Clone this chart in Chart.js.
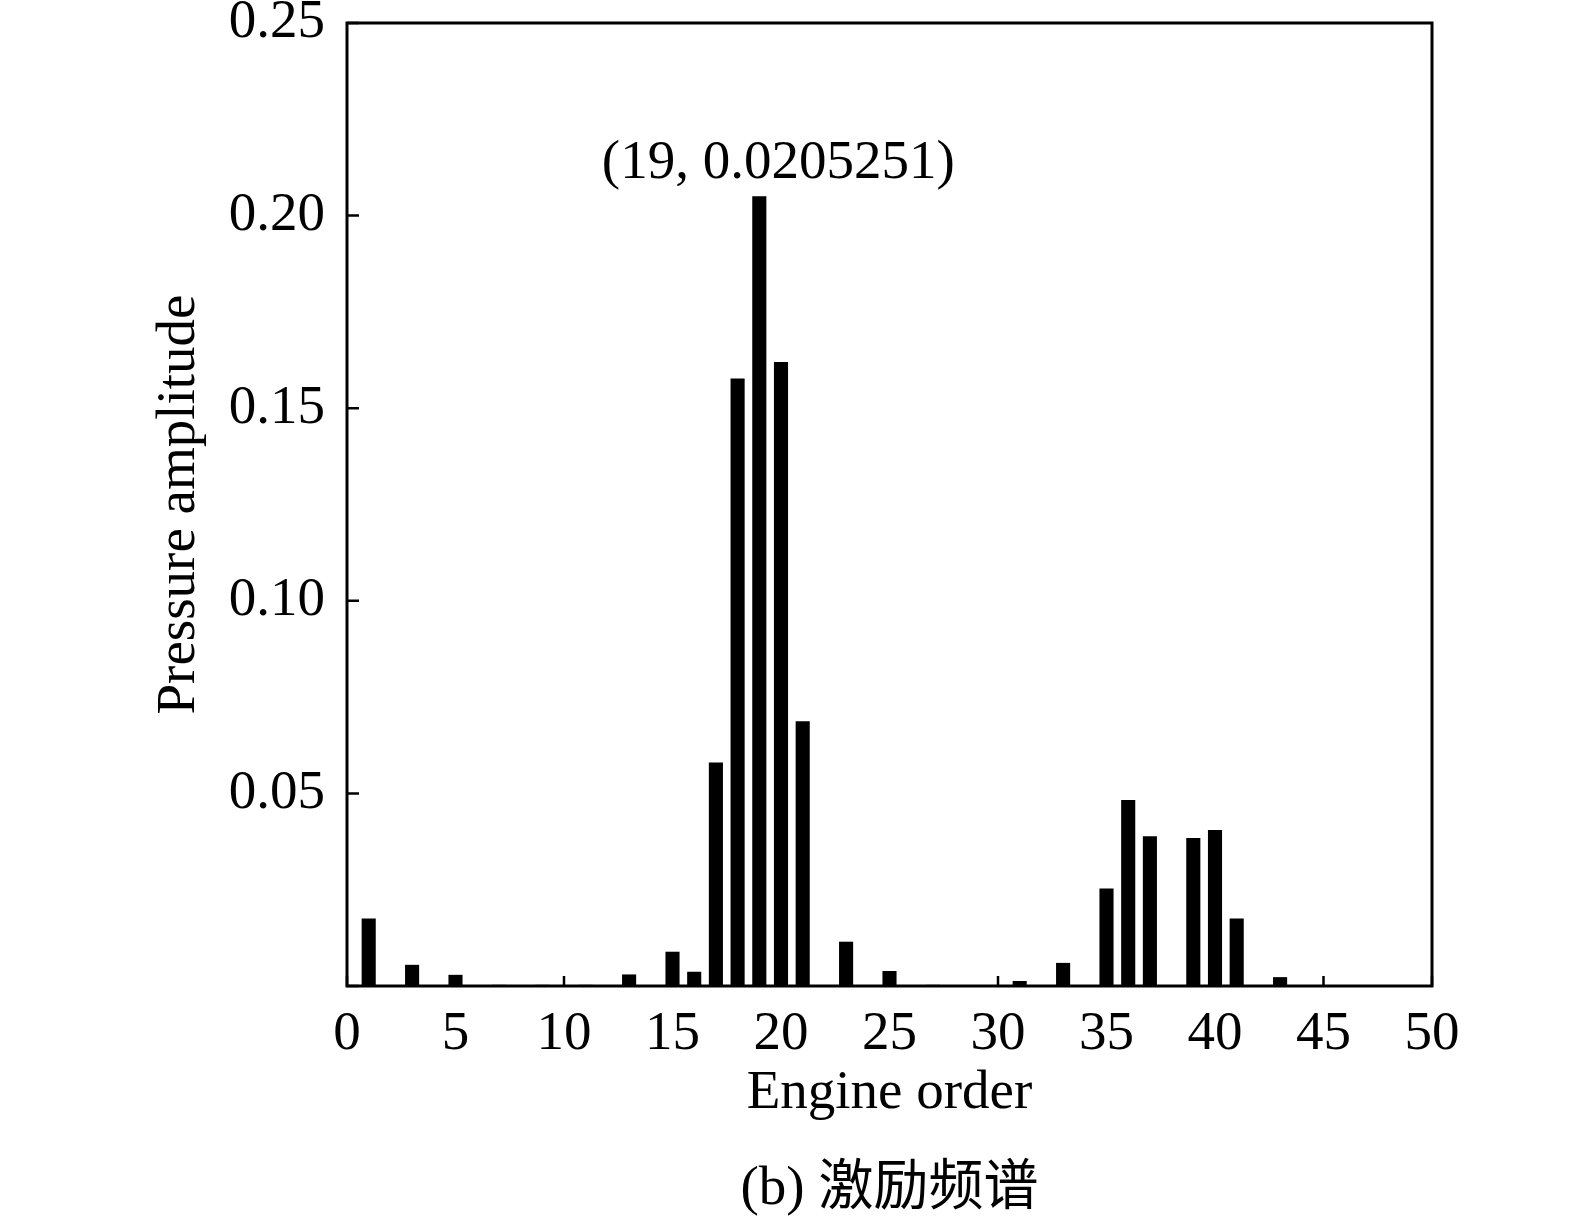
<!DOCTYPE html>
<html>
<head>
<meta charset="utf-8">
<script src="https://cdn.jsdelivr.net/npm/chart.js@4/dist/chart.umd.min.js"></script>
<style>
  html, body { margin: 0; padding: 0; background: #fff; }
  #wrap { width: 1575px; height: 1225px; position: relative; }
</style>
</head>
<body>
<div id="wrap"><canvas id="spectrum"></canvas></div>
<script>
// Engine orders and pressure amplitudes
const orders = [1, 3, 5, 7, 9, 11, 13, 15, 16, 17, 18, 19, 20, 21, 23, 25, 27, 31, 33, 35, 36, 37, 39, 40, 41, 43];
const amplitudes = [0.0175, 0.0055, 0.0029, 0.0003, 0.0003, 0.0003, 0.0030, 0.0089, 0.0037, 0.0580, 0.1577,
                    0.2050, 0.1620, 0.0687, 0.0115, 0.0039, 0.0003, 0.0013, 0.0060, 0.0253, 0.0483, 0.0389,
                    0.0384, 0.0405, 0.0175, 0.0023];
const xTicks = [0, 5, 10, 15, 20, 25, 30, 35, 40, 45, 50];
const yTicks = [0, 0.05, 0.10, 0.15, 0.20, 0.25];

const peakLabel = '(19, 0.0205251)';
const xTitle = 'Engine order';
const yTitle = 'Pressure amplitude';
const caption = '(b) 激励频谱';

const serif = '"Liberation Serif", "Times New Roman", "Noto Sans CJK SC", serif';

// no extra room for half labels at the ends of the axes
function noPadding(scale) {
    scale.paddingTop = 0;
    scale.paddingBottom = 0;
    scale.paddingLeft = 0;
    scale.paddingRight = 0;
}

// Frame, inward ticks and texts
const decorPlugin = {
    id: 'decor',
    afterDraw(chart) {
        const ctx = chart.ctx;
        const a = chart.chartArea;
        const xs = chart.scales.x;
        const ys = chart.scales.y;
        ctx.save();
        ctx.strokeStyle = '#000';
        ctx.lineWidth = 3;
        ctx.strokeRect(a.left, a.top, a.right - a.left, a.bottom - a.top);

        ctx.lineWidth = 2.5;
        ctx.beginPath();
        xTicks.forEach(v => {
            const px = xs.getPixelForValue(v);
            ctx.moveTo(px, a.bottom);
            ctx.lineTo(px, a.bottom - 10);
        });
        yTicks.forEach(v => {
            const py = ys.getPixelForValue(v);
            ctx.moveTo(a.left, py);
            ctx.lineTo(a.left + 12, py);
        });
        ctx.stroke();

        ctx.fillStyle = '#000';
        ctx.textAlign = 'center';
        ctx.textBaseline = 'middle';
        ctx.font = '55px ' + serif;
        // note above the tallest bar
        const peakX = xs.getPixelForValue(19);
        const peakY = ys.getPixelForValue(amplitudes[orders.indexOf(19)]);
        ctx.fillText(peakLabel, peakX + 19, peakY - 33);

        ctx.fillText(xTitle, (a.left + a.right) / 2, a.bottom + 108);
        ctx.fillText(caption, (a.left + a.right) / 2, a.bottom + 204);

        ctx.translate(a.left - 167, (a.top + a.bottom) / 2);
        ctx.rotate(-Math.PI / 2);
        ctx.fillText(yTitle, 0, 0);
        ctx.restore();
    }
};

new Chart(document.getElementById('spectrum').getContext('2d'), {
    type: 'bar',
    data: {
        datasets: [{
            data: orders.map((o, i) => ({ x: o, y: amplitudes[i] })),
            backgroundColor: '#000',
            borderWidth: 0,
            barPercentage: 0.65,
            categoryPercentage: 1
        }]
    },
    options: {
        responsive: true,
        maintainAspectRatio: false,
        animation: false,
        devicePixelRatio: 1,
        layout: { padding: { left: 0, top: 23, right: 143, bottom: 0 } },
        plugins: {
            legend: { display: false },
            tooltip: { enabled: false }
        },
        scales: {
            x: {
                type: 'linear',
                min: 0,
                max: 50,
                offset: false,
                grid: { display: false, drawTicks: false },
                border: { display: false },
                afterBuildTicks(scale) { scale.ticks = xTicks.map(v => ({ value: v })); },
                afterFit(scale) { scale.height = 239; noPadding(scale); },
                ticks: {
                    color: '#000',
                    padding: 16,
                    maxRotation: 0,
                    autoSkip: false,
                    font: { family: serif, size: 55 },
                    callback: v => String(v)
                }
            },
            y: {
                min: 0,
                max: 0.25,
                grid: { display: false, drawTicks: false },
                border: { display: false },
                afterBuildTicks(scale) { scale.ticks = yTicks.map(v => ({ value: v })); },
                afterFit(scale) { scale.width = 347; noPadding(scale); },
                ticks: {
                    color: '#000',
                    padding: 22,
                    autoSkip: false,
                    font: { family: serif, size: 55 },
                    callback: v => (v === 0 ? '' : v.toFixed(2))
                }
            }
        }
    },
    plugins: [decorPlugin]
});
</script>
</body>
</html>
